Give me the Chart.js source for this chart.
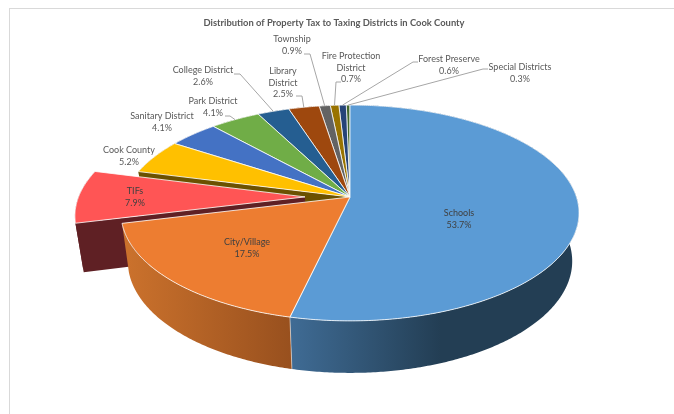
<!DOCTYPE html>
<html>
<head>
<meta charset="utf-8">
<script src="https://cdn.jsdelivr.net/npm/chart.js@4"></script>
<style>
html,body{margin:0;padding:0;background:#fff;}
#frame{position:absolute;left:9px;top:8px;right:0;bottom:0;border-left:1px solid #d9d9d9;border-top:1px solid #d9d9d9;}
canvas{position:absolute;left:0;top:0;}
</style>
</head>
<body>
<div id="frame"></div>
<canvas id="c" width="674" height="414"></canvas>
<script>
const chartTitle = 'Distribution of Property Tax to Taxing Districts in Cook County';
const categories = ['Schools','City/Village','TIFs','Cook County','Sanitary District','Park District','College District','Library District','Township','Fire Protection District','Forest Preserve','Special Districts'];
const shares = [53.7,17.5,7.9,5.2,4.1,4.1,2.6,2.5,0.9,0.7,0.6,0.3];
const sliceColors = ['#5b9bd5','#ed7d31','#ff5555','#ffc000','#4472c4','#70ad47','#255e91','#9e480e','#636363','#997300','#264478','#43682b'];
const wallLight = ['#3f6b94','#ca712c','#5f2024','#6b5100','#2b4577','#43682b','#163a59','#5f2b08','#3c3c3c','#5c4500','#172948','#283f1a'];
const wallDark = ['#233e54','#98501e','#5f2024','#6b5100','#2b4577','#43682b','#163a59','#5f2b08','#3c3c3c','#5c4500','#172948','#283f1a'];
const wallFade = [0.53,1,1,1,1,1,1,1,1,1,1,1];
const sliceOffsets = [0,0,45,0,0,0,0,0,0,0,0,0];
const lineBreaks = [['Schools'],['City/Village'],['TIFs'],['Cook County'],['Sanitary District'],['Park District'],['College District'],['Library','District'],['Township'],['Fire Protection','District'],['Forest Preserve'],['Special Districts']];
const labelCenters = [459,247,135,129,162,213,203,283,292,351,449,520];
const labelTops = [213,242,191,150.5,116,101,70.5,71,39,56,59,67];
const labelInk = ['#404040','#404040','#404040','#595959','#595959','#595959','#595959','#595959','#595959','#595959','#595959','#595959'];
// leader: [x at text, y at text, x of elbow]
const leaders = [null,null,null,null,null,[225,116,230],[234,74,240],[296,96,302],[304,54,310],[341,82,336],[418,62,413],[488,69,483]];

const TILT_NEAR = 0.148, DROP_SCALE = 0.03, FLAT = 0.466, DEPTH = 0.219;

function project(el, dx, dy, z) {
  const R = el.outerRadius, v = dy / R;
  const s = 1 / (1 - TILT_NEAR * v + DROP_SCALE * z);
  return { x: el.x + dx * s, y: el.y + (FLAT * dy + DEPTH * R * z) * s };
}
function shift(el) {
  const mid = (el.startAngle + el.endAngle) / 2, o = el.options.offset || 0;
  return { x: Math.cos(mid) * o, y: Math.sin(mid) * o };
}
function rimPoint(el, a, z) {
  const o = shift(el), R = el.outerRadius;
  return project(el, o.x + R * Math.cos(a), o.y + R * Math.sin(a), z);
}
function arcSteps(el) {
  const n = Math.max(2, Math.ceil((el.endAngle - el.startAngle) / 0.01));
  const out = [];
  for (let i = 0; i <= n; i++) out.push(el.startAngle + (el.endAngle - el.startAngle) * i / n);
  return out;
}
function tracePts(ctx, pts) {
  ctx.beginPath();
  pts.forEach((p, i) => i ? ctx.lineTo(p.x, p.y) : ctx.moveTo(p.x, p.y));
  ctx.closePath();
}
function paintSlice(ctx, el, i, arcs) {
  const o = shift(el), steps = arcSteps(el), last = steps.length - 1;
  const apexTop = project(el, o.x, o.y, 0), apexBot = project(el, o.x, o.y, 1);
  const top = steps.map(a => rimPoint(el, a, 0));
  const bot = steps.map(a => rimPoint(el, a, 1));
  const xs = bot.map(p => p.x);
  const g = ctx.createLinearGradient(Math.min(...xs), 0, Math.max(...xs), 0);
  g.addColorStop(0, wallLight[i]);
  g.addColorStop(wallFade[i], wallDark[i]);
  ctx.lineJoin = 'round';
  // a cut face shows only beside a pulled-out slice, and only if it faces the viewer
  const n = arcs.length;
  const prevOff = arcs[(i + n - 1) % n].options.offset || 0;
  const nextOff = arcs[(i + 1) % n].options.offset || 0;
  const own = el.options.offset || 0;
  ctx.fillStyle = wallDark[i];
  if ((own || prevOff) && Math.cos(el.startAngle) < 0) {
    tracePts(ctx, [apexTop, top[0], bot[0], apexBot]); ctx.fill();
  }
  if ((own || nextOff) && Math.cos(el.endAngle) > 0) {
    tracePts(ctx, [apexTop, top[last], bot[last], apexBot]); ctx.fill();
  }
  // outer wall
  ctx.fillStyle = g;
  tracePts(ctx, top.concat(bot.slice().reverse()));
  ctx.fill();
  // seams between walls
  ctx.strokeStyle = 'rgba(255,255,255,0.6)';
  ctx.lineWidth = 0.8;
  if (top[0].y > el.y && !own) { ctx.beginPath(); ctx.moveTo(top[0].x, top[0].y); ctx.lineTo(bot[0].x, bot[0].y); ctx.stroke(); }
  // top face
  ctx.fillStyle = el.options.backgroundColor;
  ctx.strokeStyle = 'rgba(255,255,255,0.8)';
  ctx.lineWidth = 1;
  tracePts(ctx, [apexTop].concat(top));
  ctx.fill();
  ctx.stroke();
}

const pie3d = {
  id: 'pie3d',
  afterLayout(chart) {
    chart.titleBlock.left -= 16;
    chart.titleBlock.right -= 16;
  },
  beforeDatasetDraw(chart, args) {
    const ctx = chart.ctx, arcs = args.meta.data;
    const order = arcs.map((el, i) => i).sort((a, b) => {
      const m = k => Math.sin((arcs[k].startAngle + arcs[k].endAngle) / 2);
      return m(a) - m(b);
    });
    ctx.save();
    order.forEach(i => paintSlice(ctx, arcs[i], i, arcs));
    ctx.restore();
    return false;
  },
  afterDraw(chart) {
    const ctx = chart.ctx, arcs = chart.getDatasetMeta(0).data;
    ctx.save();
    ctx.strokeStyle = '#a6a6a6';
    ctx.lineWidth = 1;
    leaders.forEach((l, i) => {
      if (!l) return;
      const el = arcs[i], p = rimPoint(el, (el.startAngle + el.endAngle) / 2, 0);
      ctx.beginPath();
      ctx.moveTo(l[0], l[1]);
      ctx.lineTo(l[2], l[1]);
      ctx.lineTo(p.x, p.y);
      ctx.stroke();
    });
    ctx.font = '9px Lato';
    ctx.textAlign = 'center';
    ctx.textBaseline = 'middle';
    categories.forEach((name, i) => {
      const lines = lineBreaks[i].concat([shares[i].toFixed(1) + '%']);
      ctx.fillStyle = labelInk[i];
      lines.forEach((t, k) => ctx.fillText(t, labelCenters[i], labelTops[i] + k * 11.7));
    });
    ctx.restore();
  }
};

new Chart(document.getElementById('c'), {
  type: 'pie',
  plugins: [pie3d],
  data: {
    labels: categories,
    datasets: [{ data: shares, backgroundColor: sliceColors, offset: sliceOffsets, borderWidth: 0 }]
  },
  options: {
    responsive: false,
    animation: false,
    radius: 226.5,
    layout: { padding: { left: 26, right: 0, top: 0, bottom: 48.7 } },
    plugins: {
      legend: { display: false },
      tooltip: { enabled: false },
      title: {
        display: true,
        text: chartTitle,
        color: '#595959',
        font: { family: 'Lato', size: 9.4, weight: 'bold', lineHeight: 1.2 },
        padding: { top: 17.4, bottom: 0 }
      }
    }
  }
});
</script>
</body>
</html>
